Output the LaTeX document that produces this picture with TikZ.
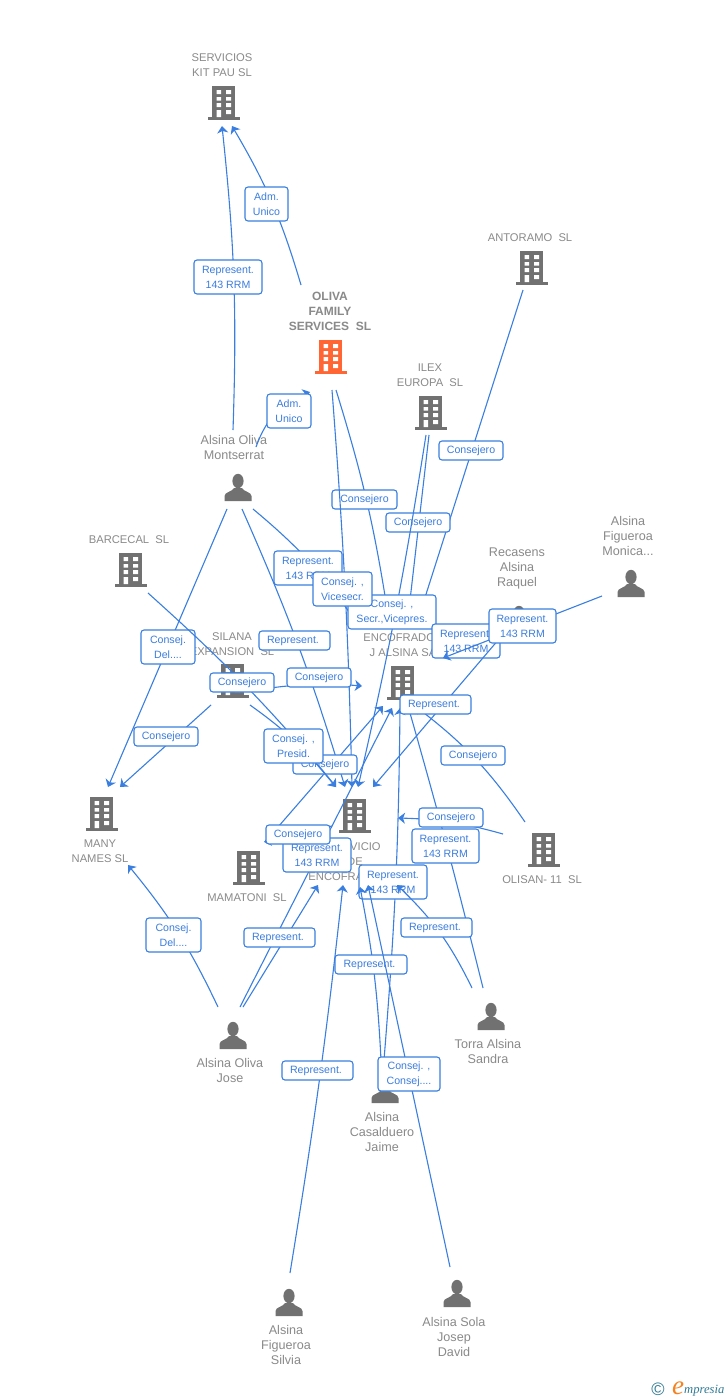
\documentclass[tikz,border=0pt]{standalone}
\usepackage{fontspec}
\setmainfont{Liberation Sans}
\newfontfamily\logofont{Liberation Serif}
\usetikzlibrary{arrows.meta}
\definecolor{linkblue}{HTML}{3A7FE0}
\definecolor{labblue}{HTML}{3B7DDD}
\definecolor{greytxt}{HTML}{8A8A8A}
\definecolor{iconfill}{HTML}{717171}
\definecolor{mainorange}{HTML}{FF6633}
\definecolor{logoteal}{HTML}{2F7A94}
\definecolor{logoorange}{HTML}{F58220}
\tikzset{
  conn/.style={draw=linkblue,line width=1.1pt,-{Stealth[length=7pt,width=11pt,inset=2pt]}},
  linkbox/.style={draw=linkblue,line width=1.1pt,fill=white,rounded corners=3pt,inner sep=0pt,align=center,text=labblue,font=\fontsize{10.6}{15}\selectfont},
  entlab/.style={inner sep=0pt,align=center,text=greytxt,font=\fontsize{11.2}{15}\selectfont},
  perlab/.style={inner sep=0pt,align=center,text=greytxt,font=\fontsize{12.6}{15}\selectfont},
  mainlab/.style={inner sep=0pt,align=center,text=greytxt,font=\fontsize{12}{15}\selectfont\bfseries},
  icon/.style={inner sep=0pt,minimum width=30pt,minimum height=30pt},
  bldg/.pic={
    \fill[pic actions] (-12,-17) rectangle (11,15);
    \fill[pic actions] (-16,14) rectangle (16,17);
    \fill[white] (-7.3,-13) rectangle (-3,-9) (2,-13) rectangle (7,-9)
                 (-7.3,-6) rectangle (-3,-2.3) (2,-6) rectangle (7,-2.3)
                 (-7.3,0) rectangle (-3,4) (2,0) rectangle (7,4)
                 (-7.3,7) rectangle (-3,14) (2,7) rectangle (7,11);
  },
  persn/.pic={
    \fill[pic actions] (0,-7) ellipse (5.6 and 7.2);
    \fill[pic actions] (-13.5,13) -- (-13.5,8) .. controls (-13.5,4) and (-6,4) .. (-4,0) -- (4,0) .. controls (6,4) and (13.5,4) .. (13.5,8) -- (13.5,13) -- cycle;
  }
}
\newcommand\cnx[4]{\coordinate (#1s) at (#2); \coordinate (#1t) at (#3); \draw[conn] (#1s) to[#4] (#1t);}
\newcommand\bx[6]{\node[linkbox,minimum width={(#4-#2)*1pt},minimum height={(#5-#3)*1pt}] (#1) at ({(#2+#4)/2},{(#3+#5)/2}) {#6};}
\newcommand\bent[3]{\node[icon] (#1) at (#2,#3) {}; \pic[fill=iconfill] at (#2,#3) {bldg};}
\newcommand\pent[3]{\node[icon] (#1) at (#2,#3) {}; \pic[fill=iconfill] at (#2,#3) {persn};}
\newcommand\RP{Represent.\hspace*{3pt}}
\begin{document}
\begin{tikzpicture}[x=1pt,y=-1pt]
\useasboundingbox (0,0) rectangle (728,1400);
\fill[white] (0,0) rectangle (728,1400);
% entities
\bent{kitpau}{224}{103}
\node[entlab] (kitpaut) at (222,65) {SERVICIOS\\KIT PAU SL};
\node[icon] (oliva) at (331,357) {}; \pic[fill=mainorange] at (331,357) {bldg};
\node[mainlab] (olivat) at (330,311) {OLIVA\\FAMILY\\SERVICES\ \ SL};
\bent{antor}{532}{268}
\node[entlab] (antort) at (530,237.7) {ANTORAMO\ \ SL};
\bent{ilex}{431}{413}
\node[entlab] (ilext) at (430,375) {ILEX\\EUROPA\ \ SL};
\pent{mont}{238}{488}
\node[perlab] (montt) at (234,447.5) {Alsina Oliva\\Montserrat};
\bent{barc}{131}{570}
\node[entlab] (barct) at (129,539.7) {BARCECAL\ \ SL};
\bent{sila}{233}{681}
\node[entlab] (silat) at (232,644) {SILANA\\EXPANSION\ \ SL};
\bent{enco}{403}{683}
\node[entlab] (encot) at (403,645) {ENCOFRADOS\\J ALSINA SA};
\pent{reca}{519}{620}
\node[perlab] (recat) at (517,568) {Recasens\\Alsina\\Raquel};
\pent{moni}{631}{584}
\node[perlab] (monit) at (628,536) {Alsina\\Figueroa\\Monica...};
\bent{many}{102}{814}
\node[entlab] (manyt) at (100,851) {MANY\\NAMES SL};
\bent{cent}{355}{816}
\node[entlab] (centt) at (348,861.6) {\hspace*{12pt}SERVICIO\\\hspace*{14pt}DE\\ENCOFRADOS};
\bent{mama}{249}{868}
\node[entlab] (mamat) at (247,897.7) {MAMATONI\ \ SL};
\bent{olis}{544}{850}
\node[entlab] (olist) at (542,879.7) {OLISAN- 11\ \ SL};
\pent{jose}{233}{1036}
\node[perlab] (joset) at (230,1070.5) {Alsina Oliva\\Jose};
\pent{torr}{491}{1017}
\node[perlab] (torrt) at (488,1051.5) {Torra Alsina\\Sandra};
\pent{jaim}{385}{1090}
\node[perlab] (jaimt) at (382,1132) {Alsina\\Casalduero\\Jaime};
\pent{silv}{289}{1303}
\node[perlab] (silvt) at (286,1345) {Alsina\\Figueroa\\Silvia};
\pent{josp}{457}{1294}
\node[perlab] (jospt) at (454,1337) {Alsina Sola\\Josep\\David};
% connectors and their labels
\cnx{a}{233,430}{222,126}{bend right=4}
\bx{la}{194}{260}{262}{294}{Represent.\\143 RRM}
\cnx{b}{301,285}{232,126}{bend right=7}
\bx{lb}{245}{187}{288}{221}{Adm.\\Unico}
\cnx{c}{256,447}{310,392}{bend left=25}
\bx{lc}{267}{394}{311}{428}{Adm.\\Unico}
\cnx{d}{227,509}{108,787}{}
\bx{ld}{141}{630}{195}{664}{Consej.\\Del....}
\cnx{e}{211,705}{120,787}{}
\bx{le}{134}{727}{198}{746}{Consejero}
\cnx{f}{218,1007}{128,865}{bend right=7}
\bx{lf}{146}{918}{201}{952}{Consej.\\Del....}
\cnx{g}{523,290}{421,610}{}
\bx{lg}{439}{441}{503}{460}{Consejero}
\cnx{h}{429,435}{409,609}{}
\bx{lh}{386}{513}{450}{532}{Consejero}
\cnx{i}{253,509}{358,625}{bend left=8}
\bx{li}{274}{551}{342}{585}{Represent.\\143 RRM}
\cnx{j}{336,390}{387,608}{bend left=4}
\bx{lj}{332}{490}{397}{509}{Consejero}
\cnx{k}{332,390}{352,787}{bend left=1.5}
\cnx{m}{426,435}{358,787}{bend left=2}
\bx{lm}{348}{595}{436}{629}{Consej. ,\\Secr.,Vicepres.}
\bx{lk}{313}{572}{372}{606}{Consej. ,\\Vicesecr.}
\cnx{n}{242,509}{345,787}{bend left=3.5}
\bx{ln}{259}{631}{330}{650}{\RP}
\cnx{o}{270,688}{362,686}{bend left=6}
\bx{lo}{287}{668}{351}{687}{Consejero}
\bx{lp}{432}{624}{500}{658}{Represent.\\143 RRM}
\cnx{q}{602,596}{443,658}{}
\cnx{r}{505,632}{373,787}{}
\bx{lq}{489}{609}{556}{643}{Represent.\\143 RRM}
\cnx{v}{384,1060}{400,708}{bend right=2}
\cnx{s}{265,842}{383,706}{}
\bx{ls}{293}{755}{357}{774}{Consejero}
\cnx{t}{148,593}{336,787}{bend left=4}
\bx{lt}{210}{673}{274}{692}{Consejero}
\cnx{u}{250,705}{336,787}{bend left=8}
\bx{lu}{264}{729}{323}{763}{Consej. ,\\Presid.}
\cnx{w}{525,822}{415,706}{bend right=9}
\bx{lw}{441}{746}{505}{765}{Consejero}
\cnx{x}{483,988}{408,706}{bend right=1}
\bx{lr}{400}{695}{471}{714}{\RP}
\bx{lx}{412}{829}{479}{863}{Represent.\\143 RRM}
\cnx{y}{503,834}{398,818}{bend right=7}
\bx{ly}{419}{808}{483}{827}{Consejero}
\cnx{z}{240,1007}{392,708}{}
\bx{lz}{283}{838}{351}{872}{Represent.\\143 RRM}
\cnx{aa}{332,826}{264,842}{}
\bx{laa}{266}{825}{330}{844}{Consejero}
\cnx{ab}{243,1007}{318,885}{}
\bx{lab}{244}{928}{315}{947}{\RP}
\bx{lac}{359}{865}{427}{899}{Represent.\\143 RRM}
\cnx{ad}{472,988}{397,885}{bend right=10}
\bx{lad}{401}{918}{472}{937}{\RP}
\cnx{ae}{381,1060}{360,887}{bend right=4}
\bx{lae}{335}{955}{407}{974}{\RP}
\cnx{af}{450,1267}{368,885}{}
\bx{laf}{378}{1057}{440}{1091}{Consej. ,\\Consej....}
\cnx{ag}{290,1273}{343,885}{bend right=1.5}
\bx{lag}{282}{1061}{353}{1080}{\RP}
% logo
\node[inner sep=0pt,text=logoteal,font=\fontsize{18}{18}\selectfont] (copyr) at (658,1389) {©};
\node[inner sep=0pt,text=logoorange,font=\fontsize{27}{27}\logofont\itshape,anchor=base] (logoe) at (678,1394) {e};
\node[inner sep=0pt,text=logoteal,font=\fontsize{12.6}{12.6}\logofont\itshape,anchor=base west] (logot) at (684,1393) {mpresia};
\end{tikzpicture}
\end{document}
